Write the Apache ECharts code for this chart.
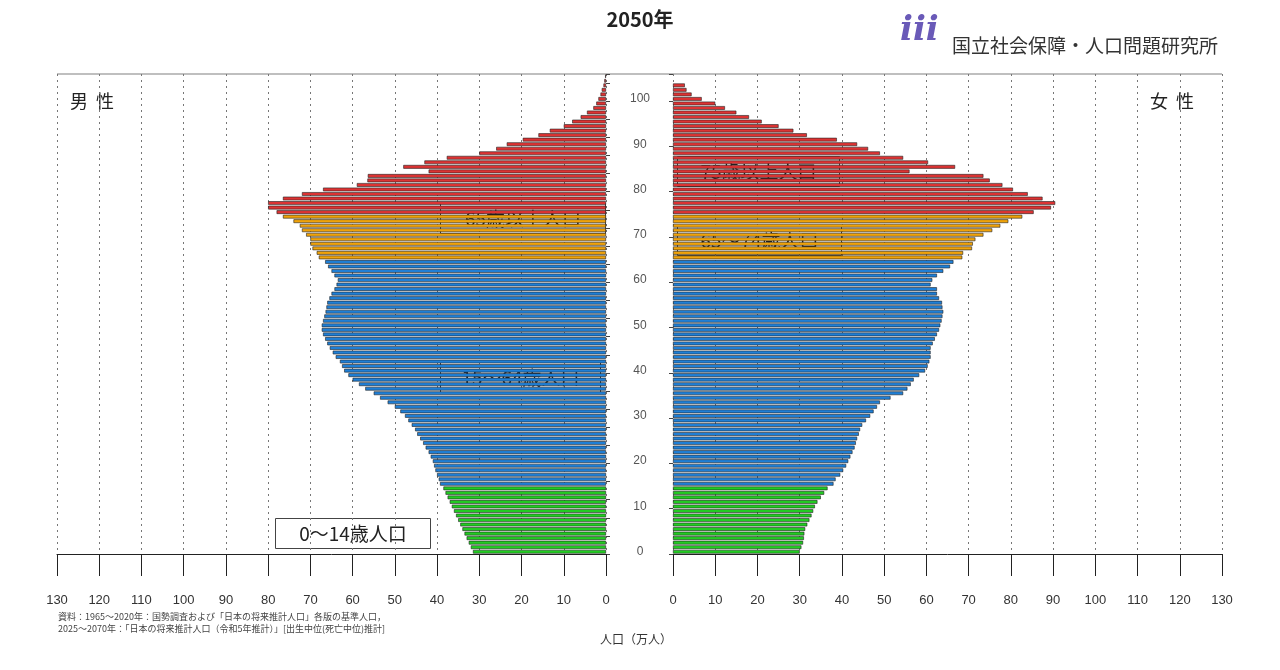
<!DOCTYPE html>
<html><head><meta charset="utf-8">
<script src="https://cdn.jsdelivr.net/npm/echarts@6/dist/echarts.min.js"></script>
<style>html,body{margin:0;padding:0;background:#fff}#c{width:1280px;height:670px}</style>
</head><body><div id="c"></div>
<script>
var ages = [];
for (var i = 0; i <= 105; i++) ages.push(String(i));
var male = [31.5,32,32.5,33,33.5,34,34.5,35,35.5,36,36.5,37,37.5,38,38.5,
39.3,39.6,40,40.4,40.7,41,41.5,42,42.7,43.3,44,44.7,45.2,46,46.8,
47.6,48.7,50,51.7,53.5,55,57,58.5,60,61,62,62.5,63,64,64.7,65.4,66,66.5,67,67.3,
67.3,67,66.7,66.4,66.2,66,65.5,65,64.3,63.8,63.5,64.3,65,65.8,66.5,
68,68.5,69.5,70,70,71,72,72.5,74,76.5,
78,80,80,76.5,72,67,59,56.5,56.4,42,48,43,37.7,30,26,23.5,19.7,16,13.3,10,8,6,4.5,3,2.3,1.8,1.3,1,0.6,0.4,0.2];
var female = [30,30.4,30.8,31,31.1,31.3,31.8,32.3,32.8,33.2,33.6,34.2,35,35.8,36.6,
38,38.5,39.6,40.3,41,41.5,42,42.5,43,43.3,43.6,44,44.3,44.8,45.7,
46.7,47.5,48.3,49,51.5,54.5,55.5,56.3,57,58.3,59.7,60.3,60.7,61,61,61,61.5,62,62.5,63,
63.3,63.6,63.8,64,63.8,63.7,63,62.5,62.5,61,61.4,62.5,64,65.6,66.4,
68.5,68.7,70.8,71,71.6,73.5,75.6,77.5,79.4,82.7,
85.4,89.5,90.5,87.5,84,80.5,78,75,73.5,56,66.8,60.4,54.5,49,46.2,43.6,38.8,31.7,28.5,25,21,18,15,12.3,10,6.8,4.4,3.2,2.8];
var xTicks = [0,10,20,30,40,50,60,70,80,90,100,110,120,130];
var groups = [
  {from:0,to:14,color:'#22cc22'},
  {from:15,to:64,color:'#1f7fd6'},
  {from:65,to:74,color:'#f0a30a'},
  {from:75,to:105,color:'#dd3333'}
];
function colorOf(a){for(var g of groups){if(a>=g.from&&a<=g.to)return g.color;}return '#999';}
function toData(arr){return arr.map(function(v,i){return {value:v,itemStyle:{color:colorOf(i)}};});}

var font = 'Noto Sans CJK JP';
function xAxisFor(idx, inv){
  return {
    type:'value', gridIndex:idx, inverse:inv, min:0, max:130, interval:10,
    axisLine:{show:true,lineStyle:{color:'#222'}},
    axisTick:{show:true,length:22,lineStyle:{color:'#222'}},
    axisLabel:{margin:40,color:'#333',fontSize:13,fontFamily:'Arial'},
    splitLine:{show:true,lineStyle:{type:[2,4],color:'#777'}}
  };
}
var gridTop = 74, gridBottom = 670-554;
var option = {
  animation:false,
  textStyle:{fontFamily:font},
  title:{text:'2050年',left:'center',top:4,textStyle:{fontSize:20,fontWeight:'bold',color:'#222',fontFamily:font}},
  grid:[
    {left:57,width:549,top:gridTop,bottom:gridBottom},
    {left:673,width:549,top:gridTop,bottom:gridBottom}
  ],
  xAxis:[xAxisFor(0,true), xAxisFor(1,false)],
  yAxis:[
    {type:'category',gridIndex:0,data:ages,position:'right',
     axisLine:{show:false},axisTick:{show:true,length:4,lineStyle:{color:'#444'}},
     axisLabel:{show:false}},
    {type:'category',gridIndex:1,data:ages,position:'left',
     axisLine:{show:false},axisTick:{show:true,length:4,lineStyle:{color:'#444'}},
     axisLabel:{show:true,margin:33,align:'center',color:'#555',fontSize:12,fontFamily:'Arial',
       interval:function(i){return i%10===0;}}}
  ],
  series:[
    {type:'bar',xAxisIndex:0,yAxisIndex:0,data:toData(male),barCategoryGap:'18%',
     itemStyle:{borderColor:'#222',borderWidth:0.6}},
    {type:'bar',xAxisIndex:1,yAxisIndex:1,data:toData(female),barCategoryGap:'18%',
     itemStyle:{borderColor:'#222',borderWidth:0.6}}
  ],
  graphic:[
    {type:'line',shape:{x1:57,y1:74,x2:1222,y2:74},style:{stroke:'#aaa',lineWidth:1.5}},
    {type:'text',left:70,top:92,style:{text:'男  性',fontSize:18,fill:'#222',fontFamily:font}},
    {type:'text',left:1150,top:92,style:{text:'女  性',fontSize:18,fill:'#222',fontFamily:font}},
    {type:'text',left:952,top:36,style:{text:'国立社会保障・人口問題研究所',fontSize:19,fill:'#333',fontFamily:font}},
    {type:'text',left:900,top:14,style:{text:'iii',fontSize:34,fontStyle:'italic',fontWeight:'bold',fill:'#6a5ab8',fontFamily:'DejaVu Serif'}},
    {type:'text',left:600,top:633,style:{text:'人口（万人）',fontSize:12,fill:'#333',fontFamily:font}},
    {type:'text',left:58,top:611,style:{text:'資料：1965〜2020年：国勢調査および「日本の将来推計人口」各版の基準人口，\n2025〜2070年：「日本の将来推計人口（令和5年推計）」[出生中位(死亡中位)推計]',fontSize:9,lineHeight:12,fill:'#444',fontFamily:font}}
  ].concat([
    {x:440,y:203,w:165,t:'65歳以上人口'},
    {x:440,y:362,w:160,t:'15〜64歳人口'},
    {x:275,y:518,w:155,t:'0〜14歳人口'},
    {x:677,y:156,w:162,t:'75歳以上人口'},
    {x:677,y:225,w:164,t:'65〜74歳人口'}
  ].map(function(b){return {type:'group',left:b.x,top:b.y,children:[
    {type:'rect',shape:{x:0,y:0,width:b.w,height:30},style:{fill:'#fff',stroke:'#444',lineWidth:1}},
    {type:'text',x:b.w/2,y:15,style:{text:b.t,fontSize:19,fill:'#222',align:'center',verticalAlign:'middle',fontFamily:font}}
  ]};}))
};
echarts.init(document.getElementById('c')).setOption(option);
</script></body></html>
